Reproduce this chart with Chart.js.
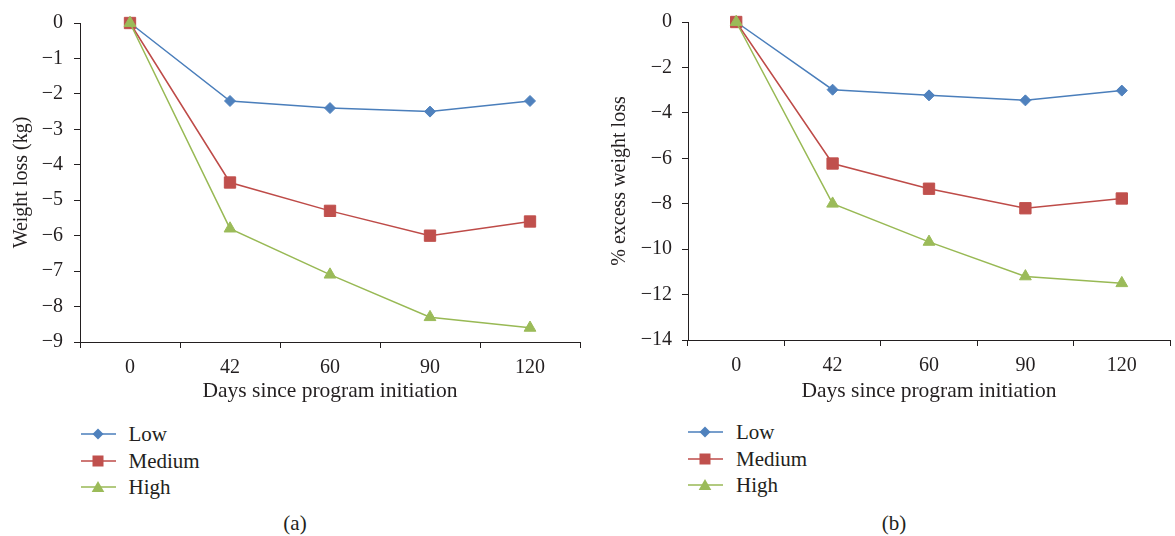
<!DOCTYPE html>
<html>
<head>
<meta charset="utf-8">
<script src="https://cdn.jsdelivr.net/npm/chart.js@4.4.1/dist/chart.umd.min.js"></script>
<style>
html, body { margin: 0; padding: 0; background: #fff; overflow: hidden; }
#page { position: relative; width: 1175px; height: 536px; overflow: hidden;
  font-family: "Liberation Serif", "Times New Roman", serif; color: #231f20; }
.box { position: absolute; top: 0; height: 410px; }
.legend { position: absolute; top: 0; font-size: 21px; }
.item { position: absolute; left: 0; height: 26px; line-height: 26px; white-space: nowrap; }
.item svg { position: absolute; left: 0; top: 6px; }
.item span { position: absolute; left: 48px; top: 0; }
.cap { position: absolute; font-size: 21px; transform: translate(-50%, -50%); }
</style>
</head>
<body>
<div id="page">
  <div class="box" style="left:0;width:590px"><canvas id="chartA"></canvas></div>
  <div class="box" style="left:590px;width:595px"><canvas id="chartB"></canvas></div>
  <div class="legend" id="legendA" style="left:80.5px"></div>
  <div class="legend" id="legendB" style="left:688px"></div>
  <div class="cap" style="left:295px;top:523px">(a)</div>
  <div class="cap" style="left:894px;top:523px">(b)</div>
</div>
<script>
// data
const days = ['0', '42', '60', '90', '120'];
const seriesNames = ['Low', 'Medium', 'High'];

const kgLow = [0, -2.2, -2.4, -2.5, -2.2];
const kgMedium = [0, -4.5, -5.3, -6.0, -5.6];
const kgHigh = [0, -5.8, -7.1, -8.3, -8.6];

const pctLow = [0, -2.98, -3.23, -3.45, -3.02];
const pctMedium = [0, -6.23, -7.34, -8.2, -7.77];
const pctHigh = [0, -8.0, -9.68, -11.2, -11.5];

const kgRange = [-9, 0, 1];    // min, max, step
const pctRange = [-14, 0, 2];

const ink = '#231f20';
const looks = [
  { line: '#4a7ebb', fill: '#4f81bd', shape: 'rectRot', r: 5.5 },
  { line: '#be4b48', fill: '#c0504d', shape: 'rect', r: 8 },
  { line: '#98b954', fill: '#9bbb59', shape: 'triangle', r: 6.8 }
];

Chart.defaults.font.family = '"Liberation Serif", "Times New Roman", serif';
Chart.defaults.font.size = 20;
Chart.defaults.color = ink;

function minus(v) {
  return v < 0 ? '\u2212' + Math.abs(v) : String(v);
}

function makeChart(id, series, yTitle, range, opt) {
  const datasets = series.map((vals, i) => ({
    label: seriesNames[i],
    data: vals,
    borderColor: looks[i].line,
    borderWidth: 1.5,
    backgroundColor: looks[i].fill,
    pointBackgroundColor: looks[i].fill,
    pointBorderColor: looks[i].fill,
    pointBorderWidth: 1,
    pointStyle: looks[i].shape,
    pointRadius: looks[i].r,
    tension: 0,
    clip: false,
    order: 3 - i
  }));
  return new Chart(document.getElementById(id), {
    type: 'line',
    data: { labels: days, datasets },
    options: {
      responsive: true,
      maintainAspectRatio: false,
      animation: false,
      layout: { padding: { top: 20, right: opt.padRight, bottom: 0, left: 0 } },
      plugins: { legend: { display: false }, tooltip: { enabled: false } },
      scales: {
        x: {
          offset: true,
          grid: { offset: true, drawOnChartArea: false, color: ink, tickLength: 6 },
          border: { color: ink, width: 1 },
          ticks: { padding: 8, maxRotation: 0 },
          title: { display: true, text: 'Days since program initiation', font: { size: 21.5 },
            padding: { top: 0, bottom: 6 } },
          afterFit: s => { s.height = opt.xHeight; }
        },
        y: {
          min: range[0], max: range[1],
          grid: { drawOnChartArea: false, color: ink, tickLength: 6 },
          border: { color: ink, width: 1 },
          ticks: { stepSize: range[2], padding: opt.tickPad, callback: v => minus(v) },
          title: { display: true, text: yTitle, padding: { top: opt.titlePad, bottom: 0 } },
          afterFit: s => { s.width = opt.yWidth; }
        }
      }
    }
  });
}

function makeLegend(id, rows) {
  const el = document.getElementById(id);
  const shapes = [
    '<polygon points="11.5,7 17,1.5 22.5,7 17,12.5" fill="#4f81bd"/>',
    '<rect x="11.5" y="1.5" width="11" height="11" fill="#c0504d"/>',
    '<polygon points="17,1 23.3,12 10.7,12" fill="#9bbb59"/>'
  ];
  seriesNames.forEach((name, i) => {
    const item = document.createElement('div');
    item.className = 'item';
    item.style.top = (rows[i] - 13) + 'px';
    item.innerHTML = '<svg width="36" height="14"><line x1="0" y1="7" x2="35" y2="7" stroke="' +
      looks[i].line + '" stroke-width="1.5"/>' + shapes[i] + '</svg><span>' + name + '</span>';
    el.appendChild(item);
  });
}

makeChart('chartA', [kgLow, kgMedium, kgHigh], 'Weight loss (kg)', kgRange,
  { padRight: 10, xHeight: 68, yWidth: 80, tickPad: 11, titlePad: 10 });
makeChart('chartB', [pctLow, pctMedium, pctHigh], '% excess weight loss', pctRange,
  { padRight: 15, xHeight: 70, yWidth: 98, tickPad: 10, titlePad: 18 });

makeLegend('legendA', [434, 460.5, 487]);
makeLegend('legendB', [432, 458.5, 485]);
</script>
</body>
</html>
